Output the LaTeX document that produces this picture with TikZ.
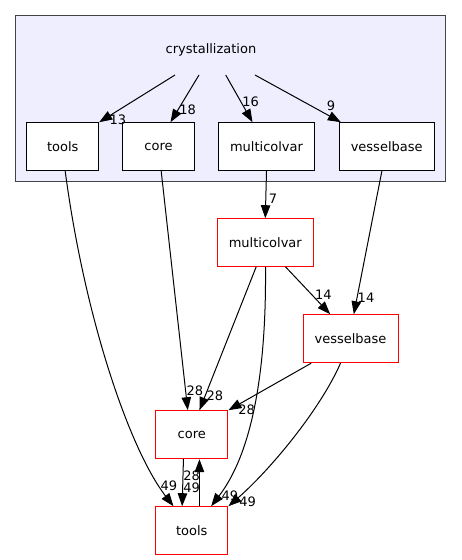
\documentclass[tikz,border=0pt]{standalone}
\usepackage{fontspec}
\setmainfont{DejaVu Sans}
\usetikzlibrary{arrows.meta,calc}
\definecolor{clfill}{HTML}{EEEEFF}
\definecolor{clborder}{HTML}{444444}
\tikzset{
  dirbox/.style={draw=black,fill=white,line width=1pt,inner sep=0pt,minimum height=48pt,font=\fontsize{13}{15}\selectfont},
  reddir/.style={draw=red,fill=white,line width=1pt,inner sep=0pt,minimum height=48pt,font=\fontsize{13}{15}\selectfont},
  dep/.style={draw=black,line width=1pt,-{Triangle[length=13pt,width=9.5pt]}},
  elabel/.style={font=\fontsize{13}{15}\selectfont,inner sep=0pt}
}
\begin{document}
\begin{tikzpicture}[x=1pt,y=-1pt]
\useasboundingbox (0,0) rectangle (461,560);
% cluster
\draw[fill=clfill,draw=clborder,line width=1pt] (15.7,15.7) rectangle (445,181);
\node[elabel] (cryst) at (211,50) {crystallization};
\coordinate (s1) at (175,75);
\coordinate (s2) at (199,75);
\coordinate (s3) at (225.7,75);
\coordinate (s4) at (255,75);
% inner nodes
\node[dirbox,minimum width=72pt] (ti) at (62.7,146.7) {tools};
\node[dirbox,minimum width=71.6pt] (ci) at (158.5,146.7) {core};
\node[dirbox,minimum width=95.6pt] (mi) at (266.5,146.7) {multicolvar};
\node[dirbox,minimum width=94.7pt] (vi) at (386.7,146.7) {vesselbase};
% outer nodes
\node[reddir,minimum width=96pt,minimum height=47.6pt] (ml) at (265.3,242.5) {multicolvar};
\node[reddir,minimum width=95pt] (vl) at (350.5,338.7) {vesselbase};
\node[reddir,minimum width=72.3pt] (cl) at (191.8,434.7) {core};
\node[reddir,minimum width=72.3pt,minimum height=47.6pt] (tl) at (191.8,530.5) {tools};
% edges from crystallization
\draw[dep] (s1) -- (ti.north east);
\draw[dep] (s2) -- ($(ci.north west)+(48.3,0)$);
\draw[dep] (s3) -- ($(mi.north west)+(34.3,0)$);
\draw[dep] (s4) -- ($(vi.north west)+(2,0)$);
\node[elabel] at (118,120) {13};
\node[elabel] at (187.7,109.3) {18};
\node[elabel] at (250.7,101.7) {16};
\node[elabel] at (331,106) {9};
% inner to outer
\draw[dep] ($(ti.south west)+(39,0)$) .. controls (85,320) and (130,450) .. ($(tl.north west)+(18.3,0)$);
\node[elabel] at (169,485.7) {49};
\draw[dep] ($(ci.south west)+(39,0)$) -- ($(cl.north west)+(32.6,0)$);
\node[elabel] at (195,390.7) {28};
\draw[dep] (mi.south) -- (ml.north);
\node[elabel] at (273,199) {7};
\draw[dep] ($(vi.south west)+(43,0)$) -- ($(vl.north west)+(51.3,0)$);
\node[elabel] at (366,297.7) {14};
% outer edges
\draw[dep] ($(ml.south west)+(68.7,0)$) -- ($(vl.north west)+(27.7,0)$);
\node[elabel] at (323.3,295) {14};
\draw[dep] ($(ml.south west)+(39.4,0)$) -- ($(cl.north west)+(44.3,0)$);
\node[elabel] at (215,395.7) {28};
\draw[dep] ($(ml.south west)+(48.7,0)$) .. controls (266,330) and (262,440) .. ($(tl.north west)+(56,0)$);
\node[elabel] at (230,495.7) {49};
\draw[dep] ($(vl.south west)+(8.7,0)$) -- (cl.north east);
\node[elabel] at (246.7,409.3) {28};
\draw[dep] ($(vl.south west)+(38,0)$) .. controls (320,410) and (270,470) .. (tl.north east);
\node[elabel] at (247.7,501.7) {49};
\draw[dep] ($(cl.south west)+(28.3,0)$) -- ($(tl.north west)+(27,0)$);
\node[elabel] at (191.7,487.5) {49};
\draw[dep] ($(tl.north west)+(44.3,0)$) -- ($(cl.south west)+(44.3,0)$);
\node[elabel] at (191.7,476) {28};
\end{tikzpicture}
\end{document}
